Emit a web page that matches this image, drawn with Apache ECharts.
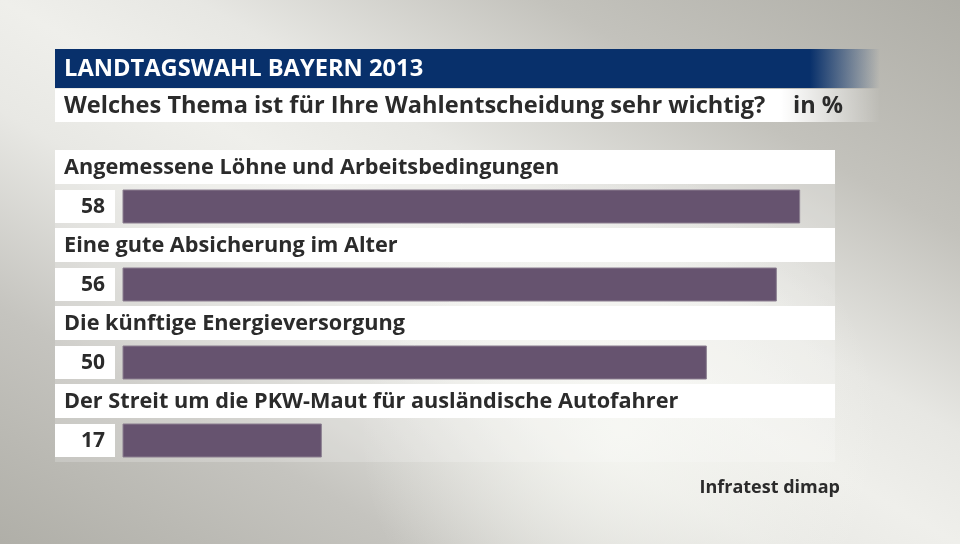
<!DOCTYPE html>
<html>
<head>
<meta charset="utf-8">
<script src="https://cdn.jsdelivr.net/npm/echarts@6/dist/echarts.min.js"></script>
<style>
html,body{margin:0;padding:0;width:960px;height:544px;overflow:hidden;}
#chart{width:960px;height:544px;}
</style>
</head>
<body>
<div id="chart"></div>
<script>
const titleText = 'LANDTAGSWAHL BAYERN 2013';
const subtitleText = 'Welches Thema ist für Ihre Wahlentscheidung sehr wichtig?';
const unitText = 'in %';
const sourceText = 'Infratest dimap';
const categories = [
  'Angemessene Löhne und Arbeitsbedingungen',
  'Eine gute Absicherung im Alter',
  'Die künftige Energieversorgung',
  'Der Streit um die PKW-Maut für ausländische Autofahrer'
];
const values = [58, 56, 50, 17];

const FONT = '"Open Sans", "Noto Sans", sans-serif';
const TEXT_COLOR = '#2b2b2b';
const BAR_COLOR = '#66536f';

const chart = echarts.init(document.getElementById('chart'), null, {renderer: 'canvas'});

function renderItem(params, api) {
  const idx = api.value(1);
  const v = api.value(0);
  const start = api.coord([0, idx]);
  const end = api.coord([v, idx]);
  const band = api.size([0, 1])[1];
  const top = start[1] - band / 2;
  const x0 = start[0];
  return {
    type: 'group',
    children: [
      {type: 'rect', shape: {x: x0 - 68, y: top, width: 780, height: band}, style: {fill: 'rgba(255,255,255,0.2)'}},
      {type: 'rect', shape: {x: x0 - 68, y: top, width: 780, height: 34}, style: {fill: '#ffffff'}},
      {type: 'text', x: x0 - 59, y: top + 18, style: {text: categories[idx], font: '700 21.7px ' + FONT, fill: TEXT_COLOR, textAlign: 'left', textVerticalAlign: 'middle'}},
      {type: 'rect', shape: {x: x0 - 68, y: top + 40, width: 60, height: 33}, style: {fill: '#ffffff'}},
      {type: 'text', x: x0 - 18, y: top + 57, style: {text: String(v), font: '700 21px ' + FONT, fill: TEXT_COLOR, textAlign: 'right', textVerticalAlign: 'middle'}},
      {type: 'rect', shape: {x: x0, y: top + 40, width: end[0] - x0, height: 33}, style: {fill: BAR_COLOR, stroke: '#8b7f90', lineWidth: 1}}
    ]
  };
}

const option = {
  animation: false,
  backgroundColor: '#afaea7',
  grid: {left: 123, top: 150, width: 700, height: 312},
  xAxis: {type: 'value', min: 0, max: 60, show: false},
  yAxis: {type: 'category', data: categories, inverse: true, show: false},
  graphic: [
    {type: 'rect', silent: true, shape: {x: 0, y: 0, width: 960, height: 544},
     style: {fill: {type: 'linear', global: true, x: 717, y: -146, x2: 243, y2: 690, colorStops: [
       {offset: 0, color: '#aeada6'},
       {offset: 0.22, color: '#c3c2bc'},
       {offset: 0.4, color: '#e7e7e3'},
       {offset: 0.5, color: '#efefeb'},
       {offset: 0.6, color: '#e8e8e4'},
       {offset: 0.78, color: '#c5c4bf'},
       {offset: 1, color: '#afaea7'}]}}},
    {type: 'rect', silent: true, shape: {x: 0, y: 0, width: 960, height: 544},
     style: {fill: {type: 'radial', global: true, x: 620, y: 430, r: 260, colorStops: [
       {offset: 0, color: 'rgba(247,248,243,0.8)'},
       {offset: 1, color: 'rgba(247,248,243,0)'}]}}},
    {type: 'rect', shape: {x: 55, y: 49, width: 825, height: 39},
     style: {fill: {type: 'linear', x: 0, y: 0, x2: 1, y2: 0, colorStops: [
       {offset: 0, color: '#08306b'}, {offset: 0.915, color: '#08306b'}, {offset: 1, color: 'rgba(8,48,107,0)'}]}}},
    {type: 'rect', shape: {x: 55, y: 89, width: 825, height: 33},
     style: {fill: {type: 'linear', x: 0, y: 0, x2: 1, y2: 0, colorStops: [
       {offset: 0, color: '#ffffff'}, {offset: 0.88, color: '#ffffff'}, {offset: 1, color: 'rgba(255,255,255,0)'}]}}},
    {type: 'text', x: 64, y: 69, style: {text: titleText, font: '700 23.7px ' + FONT, fill: '#ffffff', textVerticalAlign: 'middle'}},
    {type: 'text', x: 64, y: 106, style: {text: subtitleText, font: '700 23.6px ' + FONT, fill: TEXT_COLOR, textVerticalAlign: 'middle'}},
    {type: 'text', x: 793, y: 106, style: {text: unitText, font: '700 23.6px ' + FONT, fill: TEXT_COLOR, textVerticalAlign: 'middle'}},
    {type: 'text', x: 840, y: 488, style: {text: sourceText, font: '700 18px ' + FONT, fill: TEXT_COLOR, textAlign: 'right', textVerticalAlign: 'middle'}}
  ],
  series: [{
    type: 'custom',
    renderItem: renderItem,
    data: values.map((v, i) => [v, i]),
    encode: {x: 0, y: 1}
  }]
};
chart.setOption(option);
</script>
</body>
</html>
